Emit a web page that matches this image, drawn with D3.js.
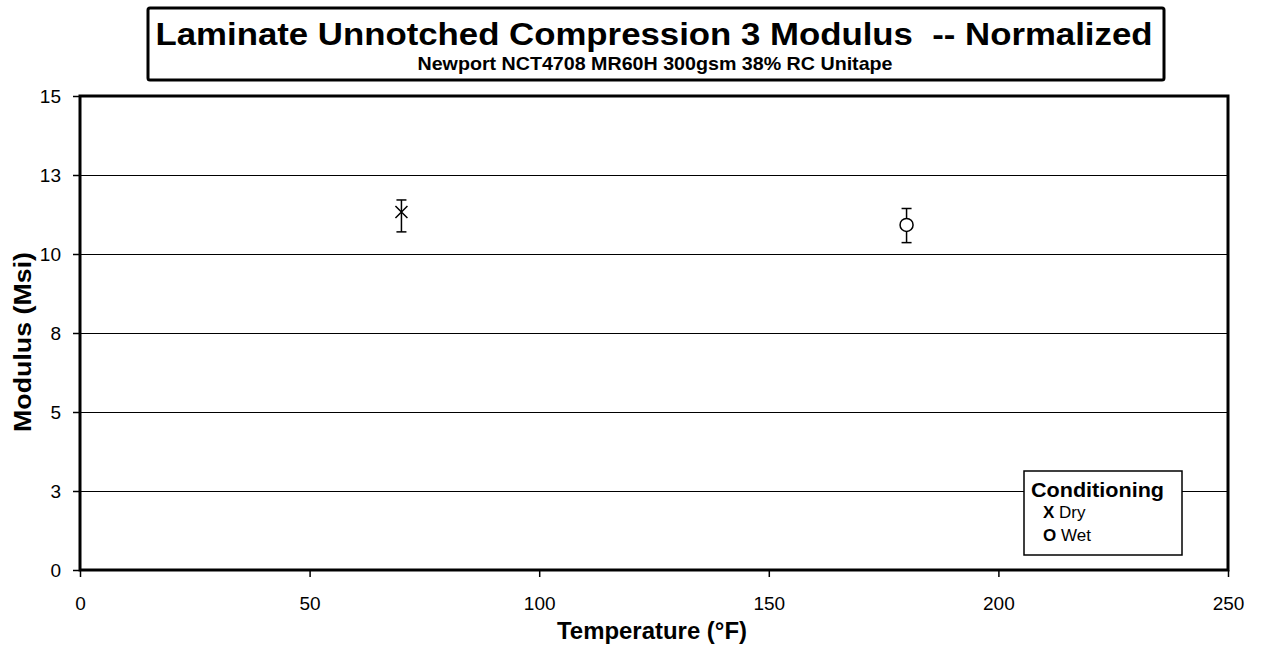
<!DOCTYPE html>
<html>
<head>
<meta charset="utf-8">
<script src="https://cdn.jsdelivr.net/npm/d3@7"></script>
<style>
  body { margin: 0; background: #fff; }
  text { font-family: "Liberation Sans", Arial, sans-serif; fill: #000; }
</style>
</head>
<body>
<script>
// chart values
var conditions = ["Dry", "Wet"];
var temperatures = [70, 180];
var means = [11.33, 10.92];
var lows = [10.70, 10.36];
var highs = [11.71, 11.44];
var xTicks = [0, 50, 100, 150, 200, 250];
var yTicks = [0, 2.5, 5, 7.5, 10, 12.5, 15];
var yTickLabels = ["0", "3", "5", "8", "10", "13", "15"];

var width = 1262, height = 649;
var margin = {left: 80, right: 34, top: 96, bottom: 79};

var svg = d3.select("body").append("svg")
    .attr("width", width)
    .attr("height", height);

var x = d3.scaleLinear().domain([0, 250]).range([margin.left, width - margin.right]);
var y = d3.scaleLinear().domain([0, 15]).range([height - margin.bottom, margin.top]);

// title box
svg.append("rect")
    .attr("x", 148).attr("y", 8)
    .attr("width", 1016).attr("height", 72)
    .attr("rx", 2)
    .attr("fill", "none").attr("stroke", "#000").attr("stroke-width", 3);

svg.append("text")
    .attr("x", 654).attr("y", 45)
    .attr("text-anchor", "middle")
    .attr("font-size", 32).attr("font-weight", "bold")
    .attr("textLength", 997).attr("lengthAdjust", "spacingAndGlyphs")
    .text("Laminate Unnotched Compression 3 Modulus \u00a0-- Normalized");

svg.append("text")
    .attr("x", 655).attr("y", 70)
    .attr("text-anchor", "middle")
    .attr("font-size", 19).attr("font-weight", "bold")
    .attr("textLength", 475).attr("lengthAdjust", "spacingAndGlyphs")
    .text("Newport NCT4708 MR60H 300gsm 38% RC Unitape");

// gridlines
svg.append("g").selectAll("line")
    .data(yTicks.slice(1, -1)).enter()
    .append("line")
    .attr("x1", x(0)).attr("x2", x(250))
    .attr("y1", function(d) { return Math.round(y(d)) + 0.5; })
    .attr("y2", function(d) { return Math.round(y(d)) + 0.5; })
    .attr("stroke", "#000").attr("stroke-width", 1);

// axes
var yAxis = svg.append("g")
    .attr("transform", "translate(" + x(0) + ",0)")
    .call(d3.axisLeft(y).tickValues(yTicks)
        .tickFormat(function(d, i) { return yTickLabels[i]; })
        .tickSize(7).tickPadding(12));

var xAxis = svg.append("g")
    .attr("transform", "translate(0," + y(0) + ")")
    .call(d3.axisBottom(x).tickValues(xTicks).tickSize(7).tickPadding(20));

[xAxis, yAxis].forEach(function(a) {
    a.select(".domain").remove();
    a.selectAll("line").attr("stroke", "#000").attr("stroke-width", 1.5);
    a.selectAll("text")
        .style("font-family", "Liberation Sans, Arial, sans-serif")
        .attr("font-size", 19).attr("fill", "#000");
});

// plot frame
svg.append("rect")
    .attr("x", x(0)).attr("y", y(15))
    .attr("width", x(250) - x(0)).attr("height", y(0) - y(15))
    .attr("fill", "none").attr("stroke", "#000").attr("stroke-width", 3);

// axis titles
svg.append("text")
    .attr("transform", "translate(31,342) rotate(-90)")
    .attr("text-anchor", "middle")
    .attr("font-size", 24).attr("font-weight", "bold")
    .attr("textLength", 180).attr("lengthAdjust", "spacingAndGlyphs")
    .text("Modulus (Msi)");

svg.append("text")
    .attr("x", 652).attr("y", 639)
    .attr("text-anchor", "middle")
    .attr("font-size", 24).attr("font-weight", "bold")
    .attr("textLength", 190).attr("lengthAdjust", "spacingAndGlyphs")
    .text("Temperature (°F)");

// error bars and markers
var pts = svg.append("g").selectAll("g")
    .data(conditions).enter()
    .append("g");

pts.append("line")
    .attr("x1", function(d, i) { return x(temperatures[i]); })
    .attr("x2", function(d, i) { return x(temperatures[i]); })
    .attr("y1", function(d, i) { return y(lows[i]); })
    .attr("y2", function(d, i) { return y(highs[i]); })
    .attr("stroke", "#000").attr("stroke-width", 1.5);

[lows, highs].forEach(function(arr) {
    pts.append("line")
        .attr("x1", function(d, i) { return x(temperatures[i]) - 5; })
        .attr("x2", function(d, i) { return x(temperatures[i]) + 5; })
        .attr("y1", function(d, i) { return y(arr[i]); })
        .attr("y2", function(d, i) { return y(arr[i]); })
        .attr("stroke", "#000").attr("stroke-width", 1.5);
});

pts.each(function(d, i) {
    var g = d3.select(this),
        cx = x(temperatures[i]),
        cy = y(means[i]);
    if (d == "Dry") {
        g.append("path")
            .attr("d", "M" + (cx - 6) + "," + (cy - 6) + "L" + (cx + 6) + "," + (cy + 6) +
                       "M" + (cx - 6) + "," + (cy + 6) + "L" + (cx + 6) + "," + (cy - 6))
            .attr("stroke", "#000").attr("stroke-width", 1.5);
    } else {
        g.append("circle")
            .attr("cx", cx).attr("cy", cy).attr("r", 6.5)
            .attr("fill", "#fff").attr("stroke", "#000").attr("stroke-width", 1.5);
    }
});

// legend
var legend = svg.append("g").attr("transform", "translate(1024,471)");
legend.append("rect")
    .attr("width", 158).attr("height", 84)
    .attr("fill", "#fff").attr("stroke", "#000").attr("stroke-width", 1.5);
legend.append("text")
    .attr("x", 7).attr("y", 26)
    .attr("font-size", 21).attr("font-weight", "bold")
    .attr("textLength", 133).attr("lengthAdjust", "spacingAndGlyphs")
    .text("Conditioning");
legend.selectAll(".item")
    .data(conditions).enter()
    .append("text")
    .attr("class", "item")
    .attr("x", 19)
    .attr("y", function(d, i) { return 47 + i * 23; })
    .attr("font-size", 17)
    .each(function(d) {
        var t = d3.select(this);
        t.append("tspan").attr("font-weight", "bold").text(d == "Dry" ? "X" : "O");
        t.append("tspan").text(" " + d);
    });
</script>
</body>
</html>
